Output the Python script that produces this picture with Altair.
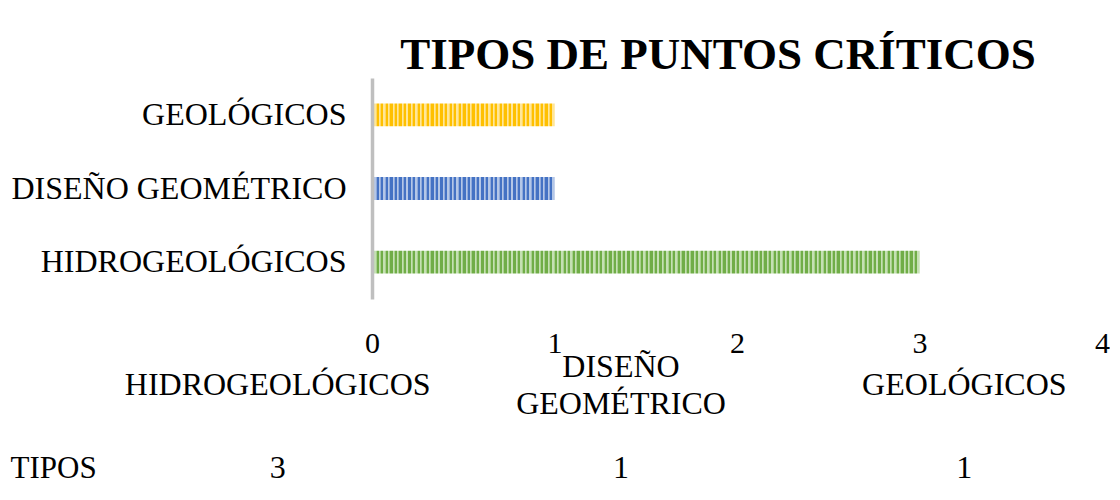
import altair as alt
import pandas as pd

# ---- data ----
categories = ["HIDROGEOLÓGICOS", "DISEÑO GEOMÉTRICO", "GEOLÓGICOS"]
values = [3, 1, 1]
axis_order = ["GEOLÓGICOS", "DISEÑO GEOMÉTRICO", "HIDROGEOLÓGICOS"]  # top to bottom
x_ticks = [0, 1, 2, 3, 4]
row_label = "TIPOS"
title_text = "TIPOS DE PUNTOS CRÍTICOS"

# ---- styles ----
FONT = "Liberation Serif"
dark_col = {"HIDROGEOLÓGICOS": "#70AD47", "DISEÑO GEOMÉTRICO": "#4472C4", "GEOLÓGICOS": "#FFC000"}
light_col = {"HIDROGEOLÓGICOS": "#C5E0B4", "DISEÑO GEOMÉTRICO": "#B4C7E7", "GEOLÓGICOS": "#FFE699"}
mid_col = {"HIDROGEOLÓGICOS": "#A9D18E", "DISEÑO GEOMÉTRICO": "#8FAADC", "GEOLÓGICOS": "#FFD966"}
STRIPES_PER_UNIT = 40
LINE_H = 37


def stripes(dark, light, mid, n):
    stops = []
    for k in range(n):
        a = k / n
        b = min(a + 0.5 / n, 1.0)
        c = min(a + 0.8 / n, 1.0)
        d = min((k + 1) / n, 1.0)
        stops += [
            {"offset": a, "color": dark}, {"offset": b, "color": dark},
            {"offset": b, "color": light}, {"offset": c, "color": light},
            {"offset": c, "color": mid}, {"offset": d, "color": mid},
        ]
    return {"gradient": "linear", "x1": 0, "y1": 0, "x2": 1, "y2": 0, "stops": stops}


df = pd.DataFrame({"cat": categories, "val": values})

base = alt.Chart(df).encode(
    x=alt.X(
        "val:Q",
        scale=alt.Scale(domain=[0, 4], nice=False),
        axis=alt.Axis(values=x_ticks, title=None, grid=False, domain=False, ticks=False,
                      tickSize=0, labelFontSize=30, labelFont=FONT, labelColor="#000000",
                      labelPadding=44, labelFlush=False, labelBaseline="middle", format="d"),
    ),
    y=alt.Y(
        "cat:N",
        sort=axis_order,
        scale=alt.Scale(domain=axis_order, paddingInner=0.69, paddingOuter=0.345),
        axis=alt.Axis(title=None, ticks=False, tickSize=0, domainColor="#BFBFBF",
                      domainWidth=3.5, labelFontSize=32, labelFont=FONT, labelColor="#000000",
                      labelPadding=26, labelLimit=0, zindex=1),
    ),
)

bar_layers = []
for c, v in zip(categories, values):
    bar_layers.append(
        base.transform_filter(alt.datum.cat == c).mark_bar(
            fill=stripes(dark_col[c], light_col[c], mid_col[c], int(round(v * STRIPES_PER_UNIT)))
        )
    )
bars = alt.layer(*bar_layers)

# ---- data table (below the plot, on its own scales) ----
tbl = pd.DataFrame({"cat": categories, "val": values})
xs = alt.X("cat:N", sort=categories,
           scale=alt.Scale(domain=categories, range=[-266, 764], paddingInner=0, paddingOuter=0),
           axis=None)
ys_scale = alt.Scale(type="point", domain=["header", row_label], range=[307, 390], padding=0)
ys_axis = alt.Axis(title=None, orient="left", domain=False, ticks=False, tickSize=0,
                   labelFontSize=31, labelFont=FONT, labelColor="#000000",
                   labelAlign="left", labelPadding=362, labelBaseline="middle",
                   labelExpr="datum.value == 'header' ? '' : datum.label")

header = alt.Chart(tbl).transform_calculate(
    row="'header'",
    off=f"-(length(split(datum.cat, ' ')) - 1) * {LINE_H} / 2",
).mark_text(
    font=FONT, fontSize=32, lineBreak=" ", lineHeight=LINE_H, baseline="middle", color="#000000"
).encode(
    x=xs,
    y=alt.Y("row:N", scale=ys_scale, axis=ys_axis),
    yOffset=alt.YOffset("off:Q", scale=None),
    text="cat:N",
)

vals = alt.Chart(tbl).transform_calculate(row=f"'{row_label}'").mark_text(
    font=FONT, fontSize=32, baseline="middle", color="#000000"
).encode(x=xs, y=alt.Y("row:N", scale=ys_scale, axis=ys_axis), text="val:Q")

table = alt.layer(header, vals)

chart = alt.layer(bars, table).resolve_scale(x="independent", y="independent").properties(
    width=730,
    height=221,
    padding={"left": 2, "top": 25, "right": 0, "bottom": 0},
    background="#ffffff",
    title=alt.TitleParams(title_text, font=FONT, fontSize=45, fontWeight="bold",
                          color="#000000", anchor="middle", frame="group", dx=-19, offset=0),
).configure_view(stroke=None)

chart.save("out.html", embed_options={"renderer": "svg", "actions": False})
